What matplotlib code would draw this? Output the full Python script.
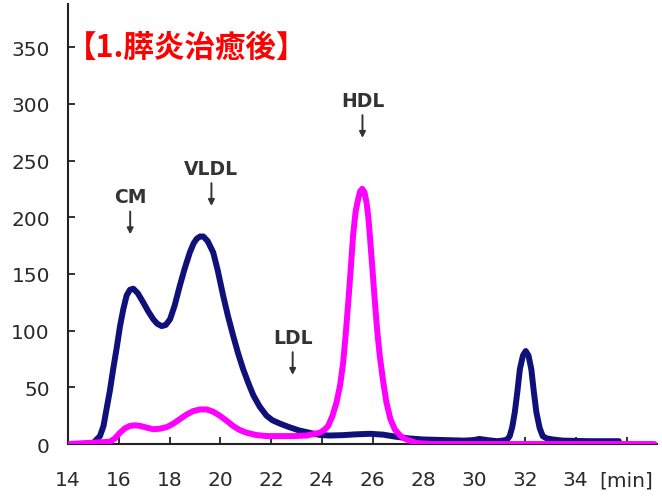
import matplotlib.pyplot as plt
import numpy as np

# Chromatogram traces (time in min, signal)
navy_t = [14.75, 15.0, 15.26, 15.4, 15.52, 15.65, 15.78, 15.92, 16.05, 16.18,
          16.31, 16.44, 16.57, 16.75, 16.96, 17.16, 17.36, 17.52, 17.69, 17.85,
          18.02, 18.2, 18.41, 18.6, 18.8, 18.95, 19.07, 19.2, 19.33, 19.5,
          19.72, 19.9, 20.11, 20.3, 20.5, 20.7, 20.9, 21.1, 21.3, 21.55,
          21.82, 22.05, 22.35, 22.7, 23.1, 23.5, 23.92, 24.3, 24.8, 25.3,
          25.9, 26.4, 26.9, 27.4, 28.0, 28.8, 29.6, 30.0, 30.2, 30.5,
          30.9, 31.13, 31.3, 31.4, 31.5, 31.6, 31.7, 31.8, 31.92, 32.03,
          32.14, 32.25, 32.35, 32.45, 32.58, 32.7, 32.85, 33.1, 33.5, 34.5,
          35.7]
navy_y = [0, 1, 7, 16, 31, 47, 66, 85, 104, 119,
          131, 136, 137, 133, 125, 117, 110, 106, 104, 105,
          110, 122, 140, 155, 169, 177, 181, 183, 183, 179,
          169, 153, 131, 113, 96, 80, 66, 54, 43, 33,
          25, 21, 18, 15, 12, 10, 8, 7.5, 7.8, 8.5,
          9, 8.3, 6.5, 5, 4, 3.5, 3, 3.5, 4.5, 3.5,
          2.5, 3, 4, 7, 15, 28, 46, 66, 78, 82,
          78, 66, 46, 28, 14, 7, 5, 4, 3, 2.5,
          2.5]

pink_t = [14.0, 15.65, 15.85, 16.05, 16.25, 16.44, 16.64, 16.83, 17.1, 17.36,
          17.62, 17.9, 18.15, 18.41, 18.67, 18.93, 19.2, 19.46, 19.72, 19.98,
          20.25, 20.5, 20.75, 21.03, 21.4, 21.82, 22.35, 22.9, 23.4, 23.92,
          24.1, 24.25, 24.42, 24.58, 24.72, 24.84, 24.94, 25.04, 25.14, 25.23,
          25.33, 25.43, 25.51, 25.59, 25.68, 25.76, 25.83, 25.89, 25.99, 26.09,
          26.18, 26.28, 26.41, 26.54, 26.7, 26.87, 27.1, 27.33, 27.72, 28.3,
          37.1]
pink_y = [0, 2, 5, 10, 14, 16, 16.5, 16, 14.5, 13,
          13.5, 15, 18, 22, 26, 29, 30.5, 30.5, 28.5, 25,
          20.5, 16, 12.5, 10, 8, 7, 7, 7, 7.5, 10,
          12.5, 16, 25, 37, 52, 72, 97, 125, 155, 184,
          205, 216, 223, 225, 222, 213, 200, 184, 155, 125,
          100, 78, 56, 37, 22, 13, 7, 4, 1, 0,
          0]

x_ticks = [14, 16, 18, 20, 22, 24, 26, 28, 30, 32, 34, 36]
x_labels = ['14', '16', '18', '20', '22', '24', '26', '28', '30', '32', '34', '[min]']
y_ticks = [0, 50, 100, 150, 200, 250, 300, 350]

peak_names = ['CM', 'VLDL', 'LDL', 'HDL']
peak_x = [16.45, 19.65, 22.85, 25.6]
peak_y = [218, 243, 94, 303]

fig = plt.figure(figsize=(6.62, 5.02), dpi=100)
ax = fig.add_axes([0.1027, 0.1135, 0.8897, 0.8765])

ax.plot(navy_t, navy_y, color='#10107a', lw=4.3, solid_capstyle='round',
        solid_joinstyle='round', zorder=3)
ax.plot(pink_t, pink_y, color='#ff00ff', lw=4.3, solid_capstyle='round',
        solid_joinstyle='round', zorder=4)

ax.set_xlim(14, 37.2)
ax.set_ylim(0, 388)
ax.set_xticks(x_ticks)
ax.set_xticklabels(x_labels)
ax.set_yticks(y_ticks)

for s in ['top', 'right']:
    ax.spines[s].set_visible(False)
for s in ['left', 'bottom']:
    ax.spines[s].set_linewidth(1.5)
    ax.spines[s].set_color('#222222')

ax.tick_params(axis='both', direction='in', length=5, width=1.3, colors='#222222',
               labelsize=14.5, labelcolor='#2a2a2a')
ax.tick_params(axis='y', pad=13)
ax.tick_params(axis='x', pad=19)

for name, px, py in zip(peak_names, peak_x, peak_y):
    ax.text(px, py, name, ha='center', va='center', fontsize=13.5,
            fontweight='bold', color='#333333', family='DejaVu Sans')
    # short down arrow under each label
    ax.annotate('', xy=(px, py - 33), xytext=(px, py - 13),
                arrowprops=dict(arrowstyle='-|>,head_length=0.35,head_width=0.18',
                                color='#333333', lw=1.4, shrinkA=0, shrinkB=0))

fig.text(0.100, 0.905, '【1.膵炎治癒後】', ha='left', va='center', fontsize=22,
         fontweight='bold', color='#ff0000',
         family=['Noto Sans CJK JP', 'DejaVu Sans'])

fig.savefig('out.png', dpi=100)
